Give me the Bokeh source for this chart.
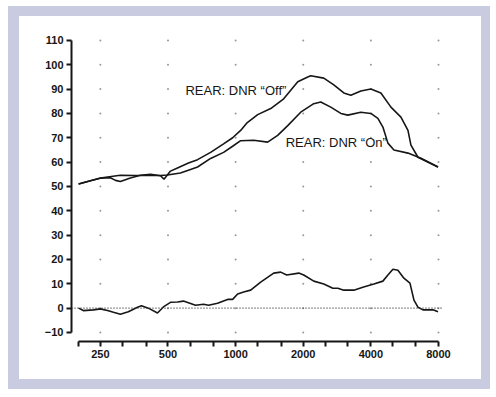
import numpy as np
from bokeh.plotting import figure
from bokeh.models import FixedTicker, Range1d, Label, Span, NumeralTickFormatter
from bokeh.embed import file_html
from bokeh.resources import INLINE

# ---- data (frequency in Hz, level in dB) ----
off_freq = [200, 226, 250, 277, 292, 307, 340, 377, 418, 463, 480, 513, 551, 617, 677,
            774, 884, 970, 1053, 1120, 1254, 1433, 1637, 1891, 2095, 2160, 2469, 2736, 3031,
            3258, 3610, 4000, 4433, 4913, 5443, 5850, 6032, 6481, 7960]
off_val = [51.0, 52.3, 53.4, 53.6, 52.5, 52.0, 53.5, 54.6, 55.0, 54.4, 53.0, 56.3, 57.6,
           59.6, 61.0, 64.0, 67.5, 70.0, 73.0, 76.0, 79.5, 82.0, 86.0, 93.0, 95.0, 95.5, 94.5,
           91.7, 88.4, 87.5, 89.2, 90.0, 88.4, 82.6, 78.5, 73.0, 67.0, 62.0, 58.0]

on_freq = [200, 250, 307, 358, 418, 463, 497, 568, 630, 677, 774, 884, 970, 1053, 1203, 1389,
           1539, 1706, 1949, 2228, 2393, 2652, 2940, 3158, 3610, 4000, 4298, 4525, 4763,
           5067, 5850, 6685, 7960]
on_val = [51.0, 53.5, 54.6, 54.5, 54.5, 54.5, 54.7, 55.5, 57.0, 58.0, 61.5, 64.0, 66.5, 68.8,
          69.0, 68.2, 71.0, 75.0, 80.5, 84.0, 84.7, 82.6, 80.0, 79.3, 80.5, 80.0, 78.0,
          74.4, 67.8, 65.0, 63.7, 61.6, 58.0]

diff_freq = [200, 210, 233, 250, 269, 286, 307, 333, 366, 381, 409, 449, 477, 513, 551,
             586, 663, 720, 758, 831, 921, 970, 1021, 1086, 1167, 1293, 1478, 1587, 1689,
             1910, 2010, 2228, 2469, 2708, 2851, 3031, 3360, 3683, 4125, 4525, 4763, 5015,
             5278, 5613, 5971, 6221, 6481, 6822, 7562, 7960]
diff_val = [0.0, -1.0, -0.7, -0.3, -1.0, -1.7, -2.5, -1.5, 0.4, 1.0, 0.0, -2.0, 0.5, 2.4,
            2.5, 2.9, 1.2, 1.6, 1.2, 2.0, 3.6, 3.6, 5.8, 6.6, 7.4, 10.7, 14.4, 14.8, 13.6,
            14.4, 13.6, 11.1, 9.9, 8.2, 8.2, 7.4, 7.4, 8.6, 9.9, 11.1, 13.6, 16.0, 15.6,
            12.3, 10.3, 3.3, 0.4, -0.7, -0.7, -1.5]

x_major = [250, 500, 1000, 2000, 4000, 8000]
x_minor = [200, 315, 400, 630, 800, 1250, 1600, 2500, 3150, 5000, 6300]
y_ticks = list(range(-10, 111, 10))

label_off = "REAR: DNR \u201cOff\u201d"
label_on = "REAR: DNR \u201cOn\u201d"

FRAME = "#c9cbe0"
INK = "#161616"

p = figure(width=462, height=363, x_axis_type="log",
           x_range=Range1d(186, 8335), y_range=Range1d(-13.7, 111.6),
           output_backend="svg", toolbar_location=None,
           min_border_left=52, min_border_right=39,
           min_border_top=20, min_border_bottom=38)
p.margin = (16, 0, 0, 19)
p.styles = {"box-shadow": "-1px 0px 0px 10px " + FRAME}
p.outline_line_color = None
p.background_fill_color = "white"
p.border_fill_color = "white"
p.xgrid.visible = False
p.ygrid.visible = False

# grid dots
gx, gy = np.meshgrid(x_major, y_ticks)
p.scatter(gx.ravel(), gy.ravel(), size=2.0, color="#999999", line_color=None)

# zero reference line
p.add_layout(Span(location=0, dimension="width", line_color="#333333",
                  line_dash="1 2", line_width=1.2))

p.line(off_freq, off_val, line_color=INK, line_width=1.6)
p.line(on_freq, on_val, line_color=INK, line_width=1.6)
p.line(diff_freq, diff_val, line_color=INK, line_width=1.6)

p.add_layout(Label(x=598, y=89.6, text=label_off, text_font="Liberation Sans",
                   text_font_size="13px", text_baseline="middle", text_color=INK))
p.add_layout(Label(x=1671, y=68.2, text=label_on, text_font="Liberation Sans",
                   text_font_size="13px", text_baseline="middle", text_color=INK))

# axes
for ax in (p.xaxis[0], p.yaxis[0]):
    ax.axis_line_width = 2
    ax.axis_line_color = INK
    ax.major_tick_line_width = 2
    ax.major_tick_line_color = INK
    ax.minor_tick_line_width = 2
    ax.minor_tick_line_color = INK
    ax.major_tick_in = 0
    ax.major_tick_out = 5
    ax.major_label_text_font = "Liberation Sans"
    ax.major_label_text_font_style = "bold"
    ax.major_label_text_font_size = "11px"
    ax.major_label_text_color = INK

p.xaxis.ticker = FixedTicker(ticks=x_major, minor_ticks=x_minor)
p.xaxis.formatter = NumeralTickFormatter(format="0")
p.xaxis.bounds = (200, 8000)
p.xaxis.minor_tick_in = 0
p.xaxis.minor_tick_out = 5
p.xaxis.major_label_standoff = 3

p.yaxis.ticker = FixedTicker(ticks=y_ticks)
p.yaxis.bounds = (-10, 110)
p.yaxis.minor_tick_in = 0
p.yaxis.minor_tick_out = 0
p.yaxis.major_label_standoff = 3

open("out.html", "w").write(file_html(p, INLINE))
